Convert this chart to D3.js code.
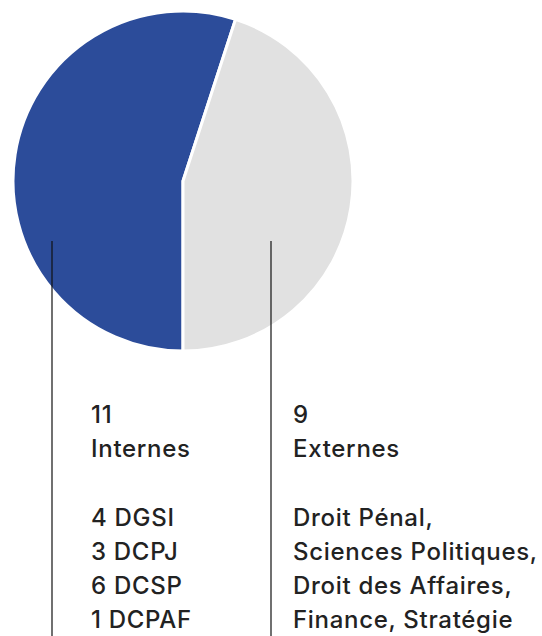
<!DOCTYPE html>
<html>
<head>
<meta charset="utf-8">
<script src="https://cdn.jsdelivr.net/npm/d3@7"></script>
<style>
  body { margin: 0; background: #fff; }
  svg { display: block; }
</style>
</head>
<body>
<div id="chart"></div>
<script>
  // Data
  var categories = ['Internes', 'Externes'];
  var counts = [11, 9];
  var colors = ['#2c4c9a', '#e1e1e1'];
  var details = [
    ['4 DGSI', '3 DCPJ', '6 DCSP', '1 DCPAF'],
    ['Droit Pénal,', 'Sciences Politiques,', 'Droit des Affaires,', 'Finance, Stratégie']
  ];

  var width = 542, height = 636;
  var cx = 183, cy = 181, radius = 170;
  var lineX = [52, 271];
  var textX = [91, 293];
  var lineTop = 241;
  var firstBaseline = 423, lineHeight = 34.2;

  var svg = d3.select('#chart')
    .append('svg')
    .attr('width', width)
    .attr('height', height);

  var pie = d3.pie()
    .sort(null)
    .startAngle(Math.PI)
    .endAngle(3 * Math.PI);

  var arc = d3.arc()
    .innerRadius(0)
    .outerRadius(radius);

  var slices = pie(counts);

  svg.append('g')
    .attr('transform', 'translate(' + cx + ',' + cy + ')')
    .selectAll('path')
    .data(slices)
    .enter()
    .append('path')
    .attr('d', arc)
    .attr('fill', function (d, i) { return colors[i]; })
    .attr('stroke', '#fff')
    .attr('stroke-width', 3)
    .attr('stroke-linejoin', 'miter');

  // Leader lines
  svg.append('g')
    .selectAll('line')
    .data(categories)
    .enter()
    .append('line')
    .attr('x1', function (d, i) { return lineX[i]; })
    .attr('x2', function (d, i) { return lineX[i]; })
    .attr('y1', lineTop)
    .attr('y2', height)
    .attr('stroke', '#111')
    .attr('stroke-width', 1.2);

  // Text columns
  categories.forEach(function (cat, i) {
    var rows = [String(counts[i]), cat, ''].concat(details[i]);
    svg.append('g')
      .selectAll('text')
      .data(rows)
      .enter()
      .append('text')
      .attr('x', textX[i])
      .attr('y', function (d, j) { return firstBaseline + j * lineHeight; })
      .attr('font-family', 'Inter, sans-serif')
      .attr('font-size', 24)
      .attr('font-weight', 500)
      .attr('letter-spacing', 0.7)
      .attr('fill', '#222')
      .text(function (d) { return d; });
  });
</script>
</body>
</html>
